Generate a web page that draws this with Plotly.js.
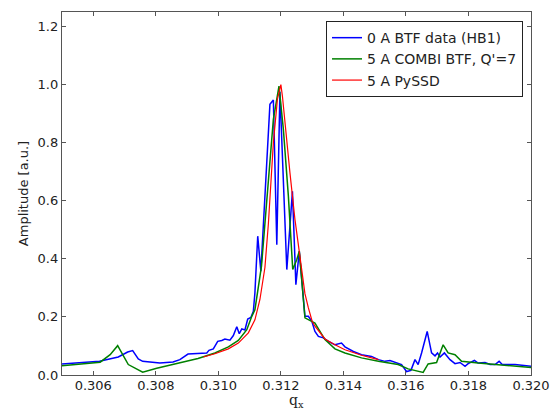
<!DOCTYPE html>
<html>
<head>
<meta charset="utf-8">
<script src="https://cdn.plot.ly/plotly-3.0.1.min.js"></script>
<style>html,body{margin:0;padding:0;background:#fff;}#chart{width:557px;height:412px;}</style>
</head>
<body>
<div id="chart"></div>
<script>
// 0 A BTF data (HB1)
const blueQ = [0.3050, 0.3062, 0.3068, 0.3071, 0.30726, 0.30744, 0.30758, 0.30781, 0.30813, 0.30855, 0.30877, 0.30903, 0.30935, 0.30963, 0.30970, 0.30984, 0.30998, 0.31011, 0.31021, 0.31037, 0.31048, 0.31059, 0.31067, 0.31075, 0.31085, 0.31094, 0.31104, 0.31112, 0.31117, 0.31126, 0.31136, 0.31165, 0.31176, 0.31187, 0.31197, 0.31219, 0.31237, 0.31248, 0.31259, 0.31277, 0.31288, 0.31299, 0.31309, 0.31320, 0.31336, 0.31352, 0.31373, 0.31394, 0.31405, 0.31432, 0.31458, 0.31490, 0.31512, 0.31533, 0.31549, 0.31565, 0.31586, 0.31602, 0.31616, 0.31629, 0.31639, 0.31650, 0.31668, 0.31682, 0.31693, 0.31701, 0.31709, 0.31723, 0.31741, 0.31757, 0.31773, 0.31789, 0.31799, 0.31819, 0.31831, 0.31853, 0.31869, 0.31885, 0.31898, 0.31908, 0.31949, 0.3200];
const blueAmp = [0.038, 0.047, 0.062, 0.079, 0.084, 0.055, 0.047, 0.045, 0.041, 0.045, 0.053, 0.072, 0.074, 0.076, 0.085, 0.090, 0.116, 0.119, 0.124, 0.120, 0.136, 0.166, 0.142, 0.159, 0.155, 0.193, 0.198, 0.219, 0.283, 0.478, 0.357, 0.932, 0.947, 0.449, 0.975, 0.363, 0.633, 0.311, 0.426, 0.202, 0.202, 0.185, 0.150, 0.133, 0.128, 0.116, 0.104, 0.110, 0.097, 0.081, 0.070, 0.064, 0.053, 0.047, 0.050, 0.043, 0.036, 0.012, 0.016, 0.053, 0.036, 0.076, 0.150, 0.076, 0.066, 0.076, 0.062, 0.076, 0.053, 0.039, 0.043, 0.030, 0.039, 0.050, 0.041, 0.043, 0.036, 0.036, 0.047, 0.036, 0.036, 0.030];

// 5 A COMBI BTF, Q'=7
const greenQ = [0.3050, 0.30622, 0.30654, 0.30678, 0.30712, 0.30758, 0.30803, 0.30935, 0.30989, 0.31032, 0.31064, 0.31091, 0.31107, 0.31117, 0.31138, 0.31160, 0.31176, 0.31194, 0.31208, 0.31224, 0.31238, 0.31251, 0.31259, 0.31277, 0.31309, 0.31341, 0.31373, 0.31405, 0.31458, 0.31512, 0.31575, 0.31607, 0.31655, 0.31671, 0.31698, 0.31719, 0.31735, 0.31757, 0.31778, 0.31831, 0.31885, 0.3200];
const greenAmp = [0.032, 0.044, 0.070, 0.101, 0.036, 0.010, 0.023, 0.057, 0.076, 0.097, 0.119, 0.156, 0.202, 0.225, 0.375, 0.685, 0.880, 0.995, 0.846, 0.616, 0.363, 0.398, 0.426, 0.197, 0.179, 0.122, 0.090, 0.076, 0.059, 0.047, 0.036, 0.021, 0.009, 0.038, 0.043, 0.104, 0.076, 0.070, 0.047, 0.041, 0.036, 0.026];

// 5 A PySSD
const redQ = [0.30952, 0.30989, 0.31032, 0.31064, 0.31096, 0.31117, 0.31133, 0.31149, 0.31160, 0.31168, 0.31176, 0.31189, 0.3120, 0.31205, 0.31213, 0.31229, 0.31245, 0.31261, 0.31277, 0.31288, 0.31300, 0.31309, 0.31341, 0.31373, 0.31405, 0.31458, 0.31512];
const redAmp = [0.062, 0.073, 0.090, 0.110, 0.145, 0.190, 0.260, 0.370, 0.520, 0.680, 0.800, 0.950, 1.000, 0.960, 0.869, 0.697, 0.536, 0.409, 0.280, 0.231, 0.185, 0.168, 0.124, 0.104, 0.087, 0.068, 0.053];

const seriesNames = ["0 A BTF data (HB1)", "5 A COMBI BTF, Q'=7", "5 A PySSD"];
const xTicks = [0.306, 0.308, 0.310, 0.312, 0.314, 0.316, 0.318, 0.320];
const yTicks = [0.0, 0.2, 0.4, 0.6, 0.8, 1.0, 1.2];
const xTitle = 'q<sub>x</sub>';
const yTitle = 'Amplitude [a.u.]';

const traces = [
  {x: blueQ, y: blueAmp, name: seriesNames[0], mode: 'lines', line: {color: '#0000ff', width: 1.5}},
  {x: greenQ, y: greenAmp, name: seriesNames[1], mode: 'lines', line: {color: '#008000', width: 1.5}},
  {x: redQ, y: redAmp, name: seriesNames[2], mode: 'lines', line: {color: '#ff0000', width: 1.2}}
];

const axisCommon = {
  showgrid: false, zeroline: false, showline: true, linecolor: '#555', linewidth: 1.2,
  mirror: 'ticks', ticks: 'inside', ticklen: 4, tickcolor: '#555', tickwidth: 1,
  tickfont: {family: 'DejaVu Sans', size: 13, color: '#222'}
};

const layout = {
  width: 557, height: 412,
  margin: {l: 62, r: 26, t: 12, b: 37},
  paper_bgcolor: '#fff', plot_bgcolor: '#fff',
  font: {family: 'DejaVu Sans', color: '#222'},
  showlegend: true,
  legend: {
    x: 0.983, y: 0.975, xanchor: 'right', yanchor: 'top',
    bordercolor: '#222', borderwidth: 1, bgcolor: '#fff',
    font: {family: 'DejaVu Sans', size: 14, color: '#222'},
    tracegroupgap: 0, itemwidth: 30
  },
  xaxis: Object.assign({}, axisCommon, {
    range: [0.305, 0.320], tickvals: xTicks, tickformat: '.3f', ticklabelstandoff: -2
  }),
  yaxis: Object.assign({}, axisCommon, {
    range: [0, 1.25], tickvals: yTicks, tickformat: '.1f',
    title: {text: yTitle, font: {family: 'DejaVu Sans', size: 13, color: '#222'}, standoff: 6}
  }),
  annotations: [{
    text: xTitle, xref: 'paper', yref: 'paper', x: 0.5, y: 0,
    xanchor: 'center', yanchor: 'top', yshift: -16, showarrow: false, borderpad: 0,
    font: {family: 'DejaVu Serif', size: 14, color: '#222'}
  }]
};

Plotly.newPlot('chart', traces, layout, {displayModeBar: false, staticPlot: true});
</script>
</body>
</html>
